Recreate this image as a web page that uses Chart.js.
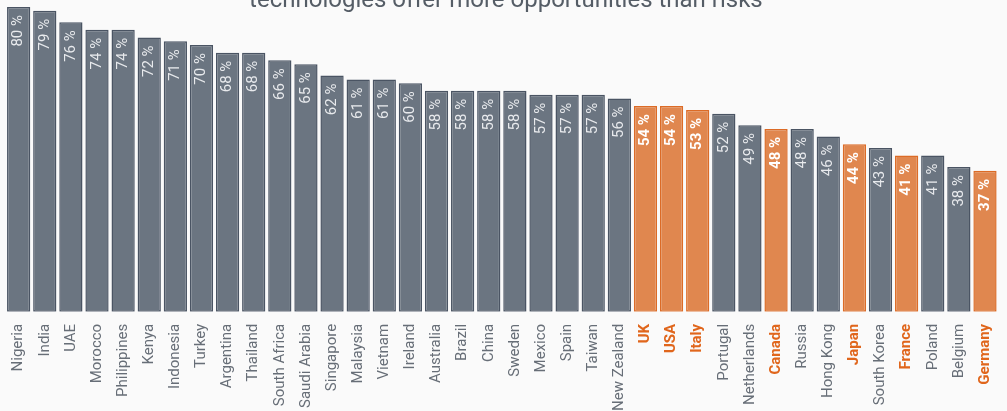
<!DOCTYPE html>
<html>
<head>
<meta charset="utf-8">
<script src="https://cdn.jsdelivr.net/npm/chart.js@4.4.1/dist/chart.umd.min.js"></script>
<style>
  html, body { margin: 0; padding: 0; background: #fafafa; overflow: hidden; }
  #wrap { position: absolute; left: 0; top: -30px; width: 1007px; height: 445px; }
</style>
</head>
<body>
<div id="wrap"><canvas id="chart"></canvas></div>
<script>
// share of respondents who think new technologies offer more opportunities than risks
var countries = ["Nigeria", "India", "UAE", "Morocco", "Philippines", "Kenya", "Indonesia", "Turkey",
  "Argentina", "Thailand", "South Africa", "Saudi Arabia", "Singapore", "Malaysia", "Vietnam", "Ireland",
  "Australia", "Brazil", "China", "Sweden", "Mexico", "Spain", "Taiwan", "New Zealand", "UK", "USA",
  "Italy", "Portugal", "Netherlands", "Canada", "Russia", "Hong Kong", "Japan", "South Korea", "France",
  "Poland", "Belgium", "Germany"];
var shares = [80, 79, 76, 74, 74, 72, 71, 70, 68, 68, 66, 65, 62, 61, 61, 60, 58, 58, 58, 58, 57, 57, 57,
  56, 54, 54, 53, 52, 49, 48, 48, 46, 44, 43, 41, 41, 38, 37];
var g7 = ["UK", "USA", "Italy", "Canada", "Japan", "France", "Germany"];

var GRAY = "#6b7581", GRAY_LINE = "#4a5463";
var ORANGE = "#e0874f", ORANGE_LINE = "#dc6b26";

function isG7(i) { return g7.indexOf(countries[i]) >= 0; }

// values written inside the bars, reading upwards
var barValues = {
  id: "barValues",
  afterDatasetsDraw: function(chart) {
    var ctx = chart.ctx;
    var meta = chart.getDatasetMeta(0);
    meta.data.forEach(function(bar, i) {
      ctx.save();
      ctx.translate(bar.x, bar.y + 8);
      ctx.rotate(-Math.PI / 2);
      ctx.textAlign = "right";
      ctx.textBaseline = "middle";
      ctx.font = (isG7(i) ? "bold " : "") + "15px Roboto";
      ctx.fillStyle = isG7(i) ? "#ffffff" : "#e8eaed";
      ctx.fillText(shares[i] + " %", 0, 0);
      ctx.restore();
    });
  }
};

new Chart(document.getElementById("chart"), {
  type: "bar",
  data: {
    labels: countries,
    datasets: [{
      data: shares,
      backgroundColor: countries.map(function(c, i) { return isG7(i) ? ORANGE : GRAY; }),
      borderColor: countries.map(function(c, i) { return isG7(i) ? ORANGE_LINE : GRAY_LINE; }),
      borderWidth: 1.5,
      borderSkipped: false,
      barPercentage: 0.89,
      categoryPercentage: 1
    }]
  },
  options: {
    responsive: true,
    maintainAspectRatio: false,
    animation: false,
    layout: { padding: { top: 25, left: 5.6, right: 0.8, bottom: 0 } },
    plugins: {
      legend: { display: false },
      tooltip: { enabled: false },
      title: {
        display: true,
        text: "technologies offer more opportunities than risks",
        color: "#555d66",
        font: { family: "Roboto", size: 24, weight: "normal", lineHeight: 0.5 },
        padding: 0
      }
    },
    scales: {
      x: {
        grid: { display: false },
        border: { display: false },
        ticks: {
          autoSkip: false,
          minRotation: 90,
          maxRotation: 90,
          padding: 4,
          color: function(c) { return isG7(c.index) ? "#e0661c" : "#676e77"; },
          font: function(c) {
            return { family: "Roboto", size: 15, weight: isG7(c.index) ? "bold" : "normal" };
          }
        }
      },
      y: {
        display: false,
        min: 0,
        max: 80
      }
    }
  },
  plugins: [barValues]
});
</script>
</body>
</html>
